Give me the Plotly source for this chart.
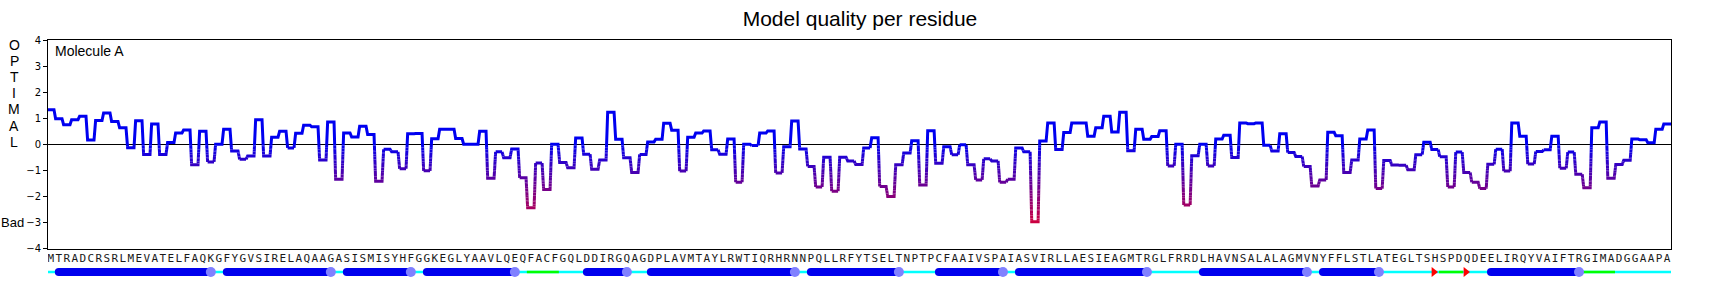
import math
import plotly.graph_objects as go

# ---------------- data ----------------
sequence = ("MTRADCRSRLMEVATELFAQKGFYGVSIRELAQAAGASISMISYHFGGKEGLYAAVLQEQ"
            "FACFGQLDDIRGQAGDPLAVMTAYLRWTIQRHRNNPQLLRFYTSELTNPTPCFAAIVSPA"
            "IASVIRLLAESIEAGMTRGLFRRDLHAVNSALALAGMVNYFFLSTLATEGLTSHSPDQDE"
            "ELIRQYVAIFTRGIMADGGAAPA")
residues = list(sequence)
positions = list(range(1, len(residues) + 1))

quality = [
    1.32, 0.98, 0.75, 0.94, 1.07, 0.16, 0.91, 1.20, 0.87, 0.63,
    -0.13, 0.90, -0.39, 0.78, -0.39, 0.07, 0.43, 0.55, -0.79, 0.50,
    -0.68, 0.00, 0.58, -0.26, -0.58, -0.45, 0.94, -0.45, 0.27, 0.50,
    -0.14, 0.42, 0.73, 0.67, -0.60, 0.85, -1.34, 0.43, 0.28, 0.69,
    0.37, -1.42, -0.19, -0.29, -0.94, 0.40, 0.41, -1.02, 0.21, 0.58,
    0.58, 0.22, 0.00, 0.00, 0.50, -1.30, -0.29, -0.52, -0.18, -1.29,
    -2.44, -0.72, -1.74, 0.00, -0.70, -0.90, 0.24, -0.38, -0.96, -0.60,
    1.23, 0.19, -0.52, -1.08, -0.39, 0.09, 0.19, 0.81, 0.54, -1.03,
    0.27, 0.43, 0.51, -0.21, -0.38, 0.20, -1.46, 0.00, -0.05, 0.43,
    0.51, -1.10, -0.10, 0.89, -0.18, -0.85, -1.64, -0.50, -1.80, -0.50,
    -0.64, -0.78, -0.14, 0.25, -1.62, -2.00, -0.79, -0.34, 0.13, -1.56,
    0.52, -0.73, -0.10, -0.40, -0.02, -0.79, -1.37, -0.56, -0.64, -1.46,
    -1.34, -0.14, -0.29, -2.97, 0.12, 0.82, -0.20, 0.45, 0.82, 0.82,
    0.31, 0.63, 1.07, 0.47, 1.23, -0.25, 0.58, 0.19, 0.30, 0.52,
    -0.83, 0.00, -2.33, -0.44, 0.00, -0.83, 0.20, 0.35, -0.51, 0.82,
    0.79, 0.82, -0.04, -0.26, 0.40, -0.32, -0.47, -0.85, -1.60, -1.37,
    0.46, 0.33, -1.08, -0.60, 0.20, 0.55, -1.70, -0.62, -0.80, -0.81,
    -0.98, -0.40, 0.08, -0.20, -0.48, -1.64, -0.30, -1.08, -1.46, -1.70,
    -0.77, -0.19, -1.03, 0.82, 0.31, -0.76, -0.28, -0.21, 0.31, -0.92,
    -0.30, -1.15, -1.67, 0.63, 0.85, -1.30, -0.78, -0.61, 0.20, 0.17,
    0.06, 0.58, 0.78,
]

# secondary structure (residue numbers)
helices = [(2, 21), (23, 36), (38, 46), (48, 59), (68, 73), (76, 94),
           (96, 107), (112, 120), (122, 138), (145, 158), (160, 167), (181, 192)]
bends = [(61, 64), (175, 177), (193, 196)]
turn_marks = [174, 178]

y_ticks = [-4, -3, -2, -1, 0, 1, 2, 3, 4]
side_letters = list("OPTIMAL")

# ---------------- layout constants ----------------
W, H = 1720, 288
ML, MR, MT, MB = 48, 49, 40, 0
PH = H - MT - MB
PW = W - ML - MR
MAIN_BOTTOM_PX = 248.5
main_lo = (H - MAIN_BOTTOM_PX) / PH


def py(pix):
    return (H - pix) / PH


def px(pix):
    return (pix - ML) / PW


NB = 40
AMAX = 3.4


def bin_of(v):
    a = min(max(-v, 0.0), AMAX)
    return int(round(a / AMAX * (NB - 1)))


def bin_color(k):
    a = k / (NB - 1) * AMAX
    r = int(round(68 * a))
    b = int(round(240 - 59 * a))
    return f"rgb({r},0,{b})"


# ---------- build stepped polyline with gradient ----------
N = len(positions)
d = 0.1
pts = []
for i, (p, v) in enumerate(zip(positions, quality)):
    x0 = p - 0.5 + (d if i > 0 else 0)
    x1 = p + 0.5 - (d if i < N - 1 else 0)
    pts.append((x0, v))
    pts.append((x1, v))

pieces = []
for (xa, ya), (xb, yb) in zip(pts[:-1], pts[1:]):
    n = max(1, int(math.ceil(abs(yb - ya) / 0.06)))
    for k in range(n):
        t0, t1 = k / n, (k + 1) / n
        pa = (xa + (xb - xa) * t0, ya + (yb - ya) * t0)
        pb = (xa + (xb - xa) * t1, ya + (yb - ya) * t1)
        pieces.append((pa, pb, bin_of((pa[1] + pb[1]) / 2)))

bins = {}
prev_bin = None
for pa, pb, k in pieces:
    lst = bins.setdefault(k, ([], []))
    if k != prev_bin:
        if lst[0]:
            lst[0].append(None)
            lst[1].append(None)
        lst[0].append(pa[0])
        lst[1].append(pa[1])
    lst[0].append(pb[0])
    lst[1].append(pb[1])
    prev_bin = k

fig = go.Figure()

for k in sorted(bins):
    xs, ys = bins[k]
    fig.add_trace(go.Scatter(x=xs, y=ys, mode="lines",
                             line=dict(color=bin_color(k), width=3),
                             hoverinfo="skip", showlegend=False,
                             xaxis="x", yaxis="y"))

# ---------- sequence letters ----------
SEQ_Y = 259
SS_Y = 272
fig.add_trace(go.Scatter(x=positions, y=[SEQ_Y] * N, mode="text", text=residues,
                         textfont=dict(family="DejaVu Sans Mono", size=11, color="#1a1a1a"),
                         showlegend=False, hoverinfo="skip", xaxis="x", yaxis="y2"))

# ---------- secondary structure ----------
fig.add_trace(go.Scatter(x=[positions[0] - 0.5, positions[-1] + 0.5], y=[SS_Y, SS_Y],
                         mode="lines", line=dict(color="#00ffff", width=2.5),
                         showlegend=False, hoverinfo="skip", xaxis="x", yaxis="y2"))
bx, byy = [], []
for a, b in bends:
    bx += [a - 0.5, b + 0.5, None]
    byy += [SS_Y, SS_Y, None]
fig.add_trace(go.Scatter(x=bx, y=byy, mode="lines", line=dict(color="#00ff00", width=2.5),
                         showlegend=False, hoverinfo="skip", xaxis="x", yaxis="y2"))
hx, hy = [], []
for s, e in helices:
    hx += [s, e, None]
    hy += [SS_Y, SS_Y, None]
fig.add_trace(go.Scatter(x=hx, y=hy, mode="lines", line=dict(color="#0000ee", width=8),
                         showlegend=False, hoverinfo="skip", xaxis="x", yaxis="y2"))
fig.add_trace(go.Scatter(x=[s for s, e in helices], y=[SS_Y] * len(helices), mode="markers",
                         marker=dict(color="#0000ee", size=8, line=dict(width=0)),
                         showlegend=False, hoverinfo="skip", xaxis="x", yaxis="y2"))
fig.add_trace(go.Scatter(x=[e for s, e in helices], y=[SS_Y] * len(helices), mode="markers",
                         marker=dict(color="#8080ff", size=10, line=dict(width=0)),
                         showlegend=False, hoverinfo="skip", xaxis="x", yaxis="y2"))
fig.add_trace(go.Scatter(x=[t - 0.15 for t in turn_marks], y=[SS_Y] * len(turn_marks),
                         mode="markers",
                         marker=dict(color="#ff0000", size=8.5, symbol="triangle-right",
                                     line=dict(width=0)),
                         showlegend=False, hoverinfo="skip", xaxis="x", yaxis="y2"))

# ---------- annotations ----------
annotations = [
    dict(text="Molecule A", xref="paper", yref="paper", x=px(52.5), y=py(50.5),
         xanchor="left", yanchor="middle", showarrow=False,
         font=dict(family="Liberation Sans", size=14, color="black")),
    dict(text="Bad", xref="paper", yref="paper", x=px(12.5), y=py(222.5),
         xanchor="center", yanchor="middle", showarrow=False,
         font=dict(family="Liberation Sans", size=13, color="black")),
]
for j, ch in enumerate(side_letters):
    annotations.append(dict(text=ch, xref="paper", yref="paper", x=px(14.2),
                            y=py(45 + j * 16.1), xanchor="center", yanchor="middle",
                            showarrow=False,
                            font=dict(family="Liberation Sans", size=14, color="black")))

fig.update_layout(
    template="none",
    width=W, height=H,
    margin=dict(l=ML, r=MR, t=MT, b=MB, pad=0, autoexpand=False),
    paper_bgcolor="white", plot_bgcolor="white",
    showlegend=False,
    title=dict(text="Model quality per residue", x=px(860), xref="paper",
               xanchor="center", y=1 - 18.5 / H, yref="container", yanchor="middle",
               font=dict(family="Liberation Sans", size=21, color="black")),
    xaxis=dict(range=[0.65, 203.5], showgrid=False, zeroline=False, showticklabels=False,
               ticks="", showline=True, mirror=True, linecolor="black", linewidth=1,
               anchor="y", automargin=False),
    yaxis=dict(range=[-4, 4], domain=[main_lo, 1], tickvals=y_ticks, ticks="outside",
               ticklen=4, tickcolor="black", showgrid=False, zeroline=True,
               zerolinecolor="black", zerolinewidth=1, showline=True, mirror=True,
               linecolor="black", linewidth=1, automargin=False,
               tickfont=dict(family="DejaVu Sans", size=10, color="black")),
    yaxis2=dict(range=[H, MAIN_BOTTOM_PX], domain=[0, main_lo], visible=False,
                anchor="x", automargin=False),
    annotations=annotations,
)

fig.write_html("out.html")
